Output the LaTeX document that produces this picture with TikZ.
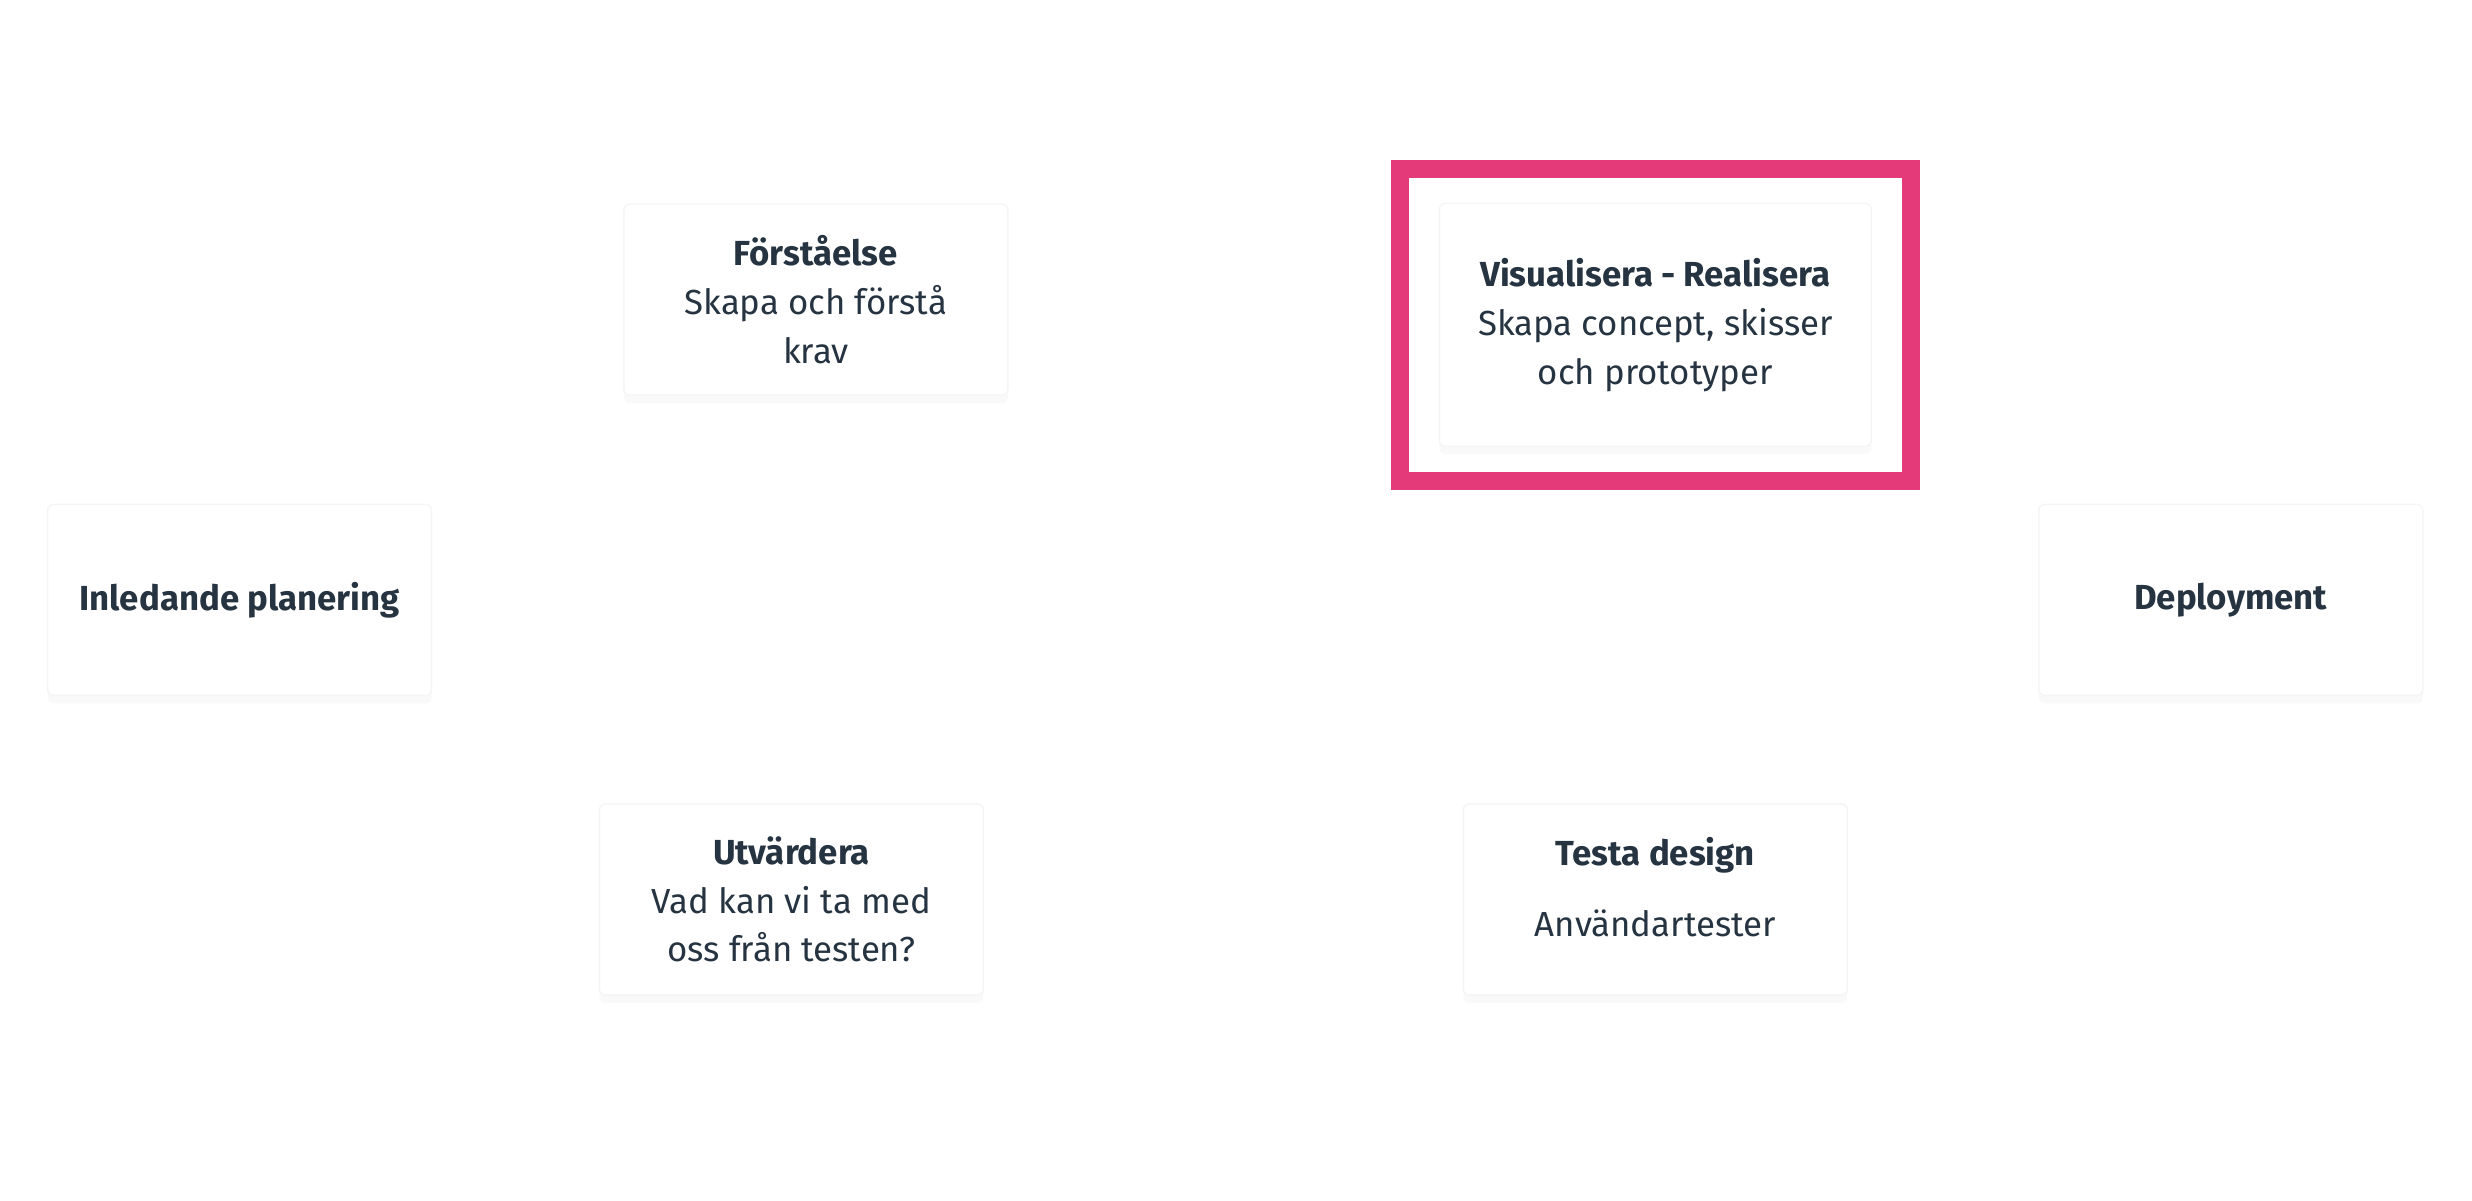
\documentclass[tikz,border=0pt]{standalone}
\usepackage{fontspec}
\setmainfont{Fira Sans}
\usetikzlibrary{fit,shadows}
\definecolor{inktext}{HTML}{263341}
\definecolor{markpink}{HTML}{E53A7A}
\tikzset{
	% white cards with a faint shadow, and the pink marker frame
	card/.style={rectangle,rounded corners=0.6mm,fill=white,draw=black!4,
		align=center,text=inktext,font=\fontsize{9.9}{13.9}\selectfont,
		minimum width=38.4mm,minimum height=19.1mm,inner sep=0pt,
		drop shadow={shadow xshift=0mm,shadow yshift=-0.8mm,opacity=0.05}},
	marker/.style={rectangle,draw=markpink,line width=1.81mm,inner xsep=3.9mm,inner ysep=3.4mm}
}
\begin{document}
\begin{tikzpicture}[x=0.15765mm,y=-0.15765mm]
	\useasboundingbox (0,0) rectangle (1568,761.2);
	% top row
	\node(forst)[card] at (517.5,190){\textbf{Förståelse}\\Skapa och förstå\\krav};
	\node(visual)[card,minimum width=43.2mm,minimum height=24.3mm] at (1050,206)
		{\textbf{Visualisera - Realisera}\\Skapa concept, skisser\\och prototyper};
	% middle row
	\node(inled)[card] at (152,380.5){\textbf{Inledande planering}};
	\node(deploy)[card] at (1415,380.5){\textbf{Deployment}};
	% bottom row
	\node(utvard)[card] at (502,570.5){\textbf{Utvärdera}\\Vad kan vi ta med\\oss från testen?};
	\node(testa)[card] at (1050,570.5){\textbf{Testa design}\\[2.2mm]Användartester\\[-2.4mm]\mbox{}};
	% highlight of the current step
	\node(mark)[marker,fit=(visual)]{};
\end{tikzpicture}
\end{document}
